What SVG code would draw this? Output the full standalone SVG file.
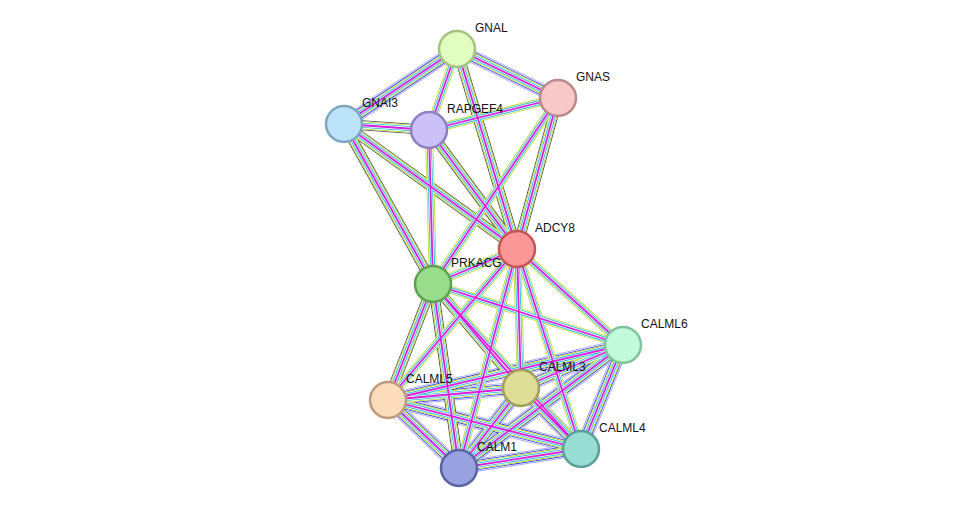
<svg xmlns="http://www.w3.org/2000/svg" xmlns:xlink="http://www.w3.org/1999/xlink" width="975" height="514" viewBox="0 0 975 514">
<style>
.n circle{stroke-width:2.5}
text{font-family:"Liberation Sans",Arial,sans-serif;font-size:12px;fill:#111}
</style>
<defs>
<g id="gF" fill="none">
<line x1="457" y1="49" x2="558" y2="98"/><line x1="457" y1="49" x2="344" y2="124"/>
<line x1="388" y1="400" x2="521" y2="388"/><line x1="388" y1="400" x2="459" y2="468"/><line x1="388" y1="400" x2="581" y2="449"/>
<line x1="459" y1="468" x2="581" y2="449"/><line x1="459" y1="468" x2="521" y2="388"/><line x1="521" y1="388" x2="581" y2="449"/>
<line x1="623" y1="345" x2="521" y2="388"/><line x1="623" y1="345" x2="388" y2="400"/><line x1="623" y1="345" x2="581" y2="449"/><line x1="623" y1="345" x2="459" y2="468"/>
</g>
<g id="gK" fill="none">
<line x1="517" y1="249" x2="457" y2="49"/><line x1="517" y1="249" x2="558" y2="98"/><line x1="517" y1="249" x2="344" y2="124"/><line x1="517" y1="249" x2="429" y2="130"/>
<line x1="433" y1="284" x2="521" y2="388"/><line x1="433" y1="284" x2="459" y2="468"/><line x1="433" y1="284" x2="388" y2="400"/>
<line x1="344" y1="124" x2="433" y2="284"/><line x1="344" y1="124" x2="429" y2="130"/>
</g>
<g id="gL" fill="none">
<line x1="517" y1="249" x2="521" y2="388"/><line x1="517" y1="249" x2="581" y2="449"/><line x1="517" y1="249" x2="459" y2="468"/><line x1="517" y1="249" x2="388" y2="400"/><line x1="517" y1="249" x2="623" y2="345"/><line x1="517" y1="249" x2="433" y2="284"/>
<line x1="433" y1="284" x2="623" y2="345"/><line x1="433" y1="284" x2="581" y2="449"/><line x1="429" y1="130" x2="433" y2="284"/><line x1="429" y1="130" x2="558" y2="98"/><line x1="558" y1="98" x2="433" y2="284"/><line x1="457" y1="49" x2="429" y2="130"/>
</g>
</defs>
<g id="connectors">
<use xlink:href="#gF" stroke="#a8a8ff" stroke-width="13"/>
<use xlink:href="#gF" stroke="#fff" stroke-width="11.2"/>
<use xlink:href="#gF" stroke="#2a2aff" stroke-width="10"/>
<use xlink:href="#gF" stroke="#fff" stroke-width="8.4"/>
<use xlink:href="#gK" stroke="#444" stroke-width="10"/>
<use xlink:href="#gK" stroke="#fff" stroke-width="8.4"/>
<use xlink:href="#gF" stroke="#c2dc2c" stroke-width="8"/>
<use xlink:href="#gK" stroke="#c2dc2c" stroke-width="8"/>
<use xlink:href="#gL" stroke="#c2dc2c" stroke-width="8"/>
<use xlink:href="#gF" stroke="#fff" stroke-width="6.3"/>
<use xlink:href="#gK" stroke="#fff" stroke-width="6.3"/>
<use xlink:href="#gL" stroke="#fff" stroke-width="6.3"/>
<use xlink:href="#gF" stroke="#20b8dc" stroke-width="5"/>
<use xlink:href="#gK" stroke="#20b8dc" stroke-width="5"/>
<use xlink:href="#gL" stroke="#20b8dc" stroke-width="5"/>
<use xlink:href="#gF" stroke="#fff" stroke-width="3.3"/>
<use xlink:href="#gK" stroke="#fff" stroke-width="3.3"/>
<use xlink:href="#gL" stroke="#fff" stroke-width="3.3"/>
<use xlink:href="#gF" stroke="#d81ed8" stroke-width="1.8"/>
<use xlink:href="#gK" stroke="#d81ed8" stroke-width="1.8"/>
<use xlink:href="#gL" stroke="#d81ed8" stroke-width="1.8"/>
</g>
<g id="GNAL" class="n"><circle cx="457" cy="49" r="18" fill="#e2fdc0" stroke="#a4c47e"/><text x="475" y="32">GNAL</text></g>
<g id="GNAS" class="n"><circle cx="558" cy="98" r="18" fill="#f8c8c8" stroke="#b88a8a"/><text x="576" y="81">GNAS</text></g>
<g id="GNAI3" class="n"><circle cx="344" cy="124" r="18" fill="#bce4f8" stroke="#7ea6c0"/><text x="362" y="107">GNAI3</text></g>
<g id="RAPGEF4" class="n"><circle cx="429" cy="130" r="18" fill="#ccc0f8" stroke="#8c80c4"/><text x="447" y="113">RAPGEF4</text></g>
<g id="ADCY8" class="n"><circle cx="517" cy="249" r="18" fill="#fa9696" stroke="#c45656"/><text x="535" y="232">ADCY8</text></g>
<g id="PRKACG" class="n"><circle cx="433" cy="284" r="18" fill="#98dc8c" stroke="#5ca050"/><text x="451" y="267">PRKACG</text></g>
<g id="CALML6" class="n"><circle cx="623" cy="345" r="18" fill="#c2fadc" stroke="#80c49e"/><text x="641" y="328">CALML6</text></g>
<g id="CALML5" class="n"><circle cx="388" cy="400" r="18" fill="#fddcbc" stroke="#bc9c7c"/><text x="406" y="383">CALML5</text></g>
<g id="CALML3" class="n"><circle cx="521" cy="388" r="18" fill="#dede98" stroke="#a0a05a"/><text x="539" y="371">CALML3</text></g>
<g id="CALML4" class="n"><circle cx="581" cy="449" r="18" fill="#98dcd4" stroke="#5aa098"/><text x="599" y="432">CALML4</text></g>
<g id="CALM1" class="n"><circle cx="459" cy="468" r="18" fill="#98a2e0" stroke="#5a64a4"/><text x="477" y="451">CALM1</text></g>
</svg>
